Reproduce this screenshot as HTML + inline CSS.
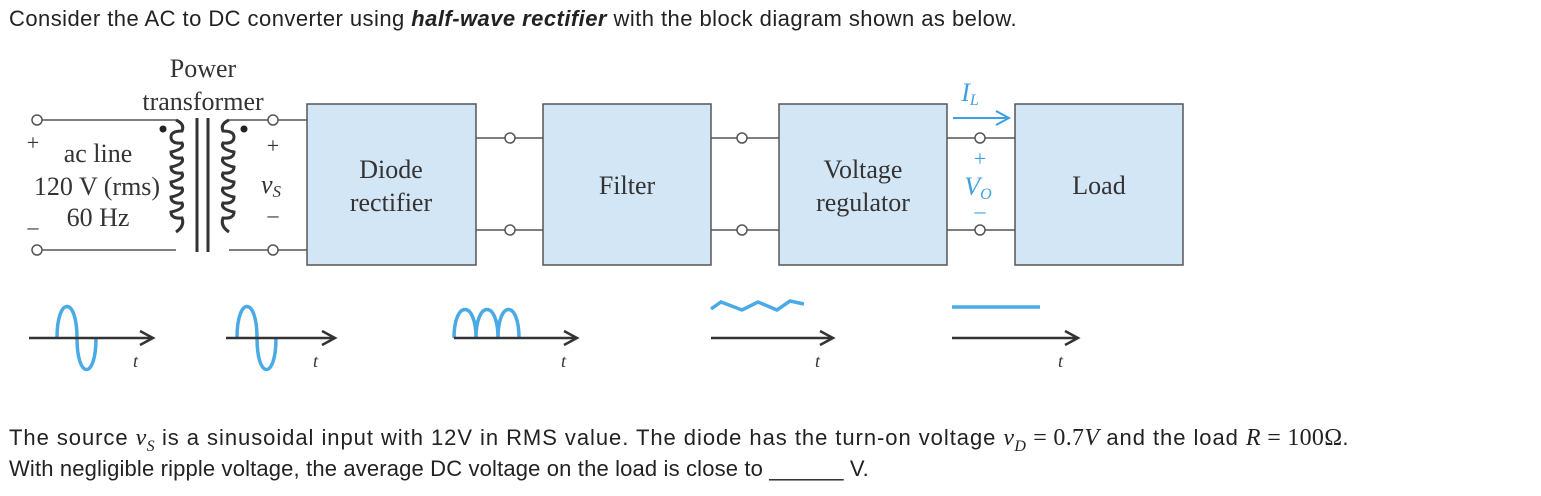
<!DOCTYPE html>
<html><head><meta charset="utf-8"><style>
body{margin:0;width:1541px;height:496px;background:#fff;position:relative;overflow:hidden;font-family:"Liberation Sans",sans-serif;color:#222}
.t{position:absolute;left:9px;font-size:22px;white-space:nowrap;letter-spacing:0.3px}
.m{font-family:'Liberation Serif',serif;font-size:24px;letter-spacing:0.3px}
</style></head><body>
<div class="t" style="top:6px;letter-spacing:0.45px">Consider the AC to DC converter using <b><i>half-wave rectifier</i></b> with the block diagram shown as below.</div>
<div class="t" style="top:425px;letter-spacing:0.95px">The source <i class="m">v<sub style="font-size:16px">S</sub></i> is a sinusoidal input with 12V in RMS value. The diode has the turn-on voltage <i class="m">v<sub style="font-size:16px">D</sub></i> <span class="m">= 0.7<i>V</i></span> and the load <span class="m"><i>R</i> = 100Ω</span>.</div>
<div class="t" style="top:456px;letter-spacing:0.15px">With negligible ripple voltage, the average DC voltage on the load is close to ______ V.</div>
<svg width="1541" height="420" style="position:absolute;left:0;top:0" font-family="Liberation Serif,serif" font-size="26" fill="#333">
<g stroke="#555" stroke-width="1.5" fill="none">
<line x1="42" y1="120" x2="176" y2="120"/><line x1="42" y1="250" x2="176" y2="250"/>
<line x1="229" y1="120" x2="268" y2="120"/><line x1="229" y1="250" x2="268" y2="250"/>
<line x1="278" y1="120" x2="307" y2="120"/><line x1="278" y1="250" x2="307" y2="250"/>
<line x1="476" y1="138" x2="505" y2="138"/><line x1="515" y1="138" x2="543" y2="138"/>
<line x1="476" y1="230" x2="505" y2="230"/><line x1="515" y1="230" x2="543" y2="230"/>
<line x1="711" y1="138" x2="737" y2="138"/><line x1="747" y1="138" x2="779" y2="138"/>
<line x1="711" y1="230" x2="737" y2="230"/><line x1="747" y1="230" x2="779" y2="230"/>
<line x1="947" y1="138" x2="975" y2="138"/><line x1="985" y1="138" x2="1015" y2="138"/>
<line x1="947" y1="230" x2="975" y2="230"/><line x1="985" y1="230" x2="1015" y2="230"/>
<circle cx="37" cy="120" r="5"/><circle cx="37" cy="250" r="5"/>
<circle cx="273" cy="120" r="5"/><circle cx="273" cy="250" r="5"/>
<circle cx="510" cy="138" r="5"/><circle cx="510" cy="230" r="5"/>
<circle cx="742" cy="138" r="5"/><circle cx="742" cy="230" r="5"/>
<circle cx="980" cy="138" r="5"/><circle cx="980" cy="230" r="5"/>
</g>
<g stroke="#333" stroke-width="3" fill="none">
<path d="M176 120 q9 4 6 11 q-11 0 -11 6 q0 7 11 6 q3 6 -11 9 q0 7 11 6 q3 6 -11 9 q0 7 11 6 q3 6 -11 9 q0 7 11 6 q3 6 -11 9 q0 7 11 6 q3 6 -11 9 q0 7 11 6 q3 8 -6 14"/>
<path d="M229 120 q-9 4 -6 11 q11 0 11 6 q0 7 -11 6 q-3 6 11 9 q0 7 -11 6 q-3 6 11 9 q0 7 -11 6 q-3 6 11 9 q0 7 -11 6 q-3 6 11 9 q0 7 -11 6 q-3 6 11 9 q0 7 -11 6 q-3 8 6 14"/>
<line x1="197" y1="118" x2="197" y2="252"/><line x1="208" y1="118" x2="208" y2="252"/>
</g>
<circle cx="163" cy="129" r="3.5" fill="#222"/><circle cx="244" cy="129" r="3.5" fill="#222"/>
<g fill="#d3e6f6" stroke="#555" stroke-width="1.5">
<rect x="307" y="104" width="169" height="161"/><rect x="543" y="104" width="168" height="161"/>
<rect x="779" y="104" width="168" height="161"/><rect x="1015" y="104" width="168" height="161"/>
</g>
<g text-anchor="middle">
<text x="203" y="77">Power</text><text x="203" y="110">transformer</text>
<text x="98" y="162">ac line</text><text x="97" y="195">120 V (rms)</text><text x="98" y="226">60 Hz</text>
<text x="33" y="150" font-size="22">+</text><text x="33" y="234" font-size="22">–</text>
<text x="273" y="153" font-size="22">+</text><text x="271" y="193" font-style="italic">v<tspan font-size="17" dy="4">S</tspan></text><text x="273" y="222" font-size="22">–</text>
<text x="391" y="178">Diode</text><text x="391" y="211">rectifier</text>
<text x="627" y="194">Filter</text>
<text x="863" y="178">Voltage</text><text x="863" y="211">regulator</text>
<text x="1099" y="194">Load</text>
</g>
<g fill="#3ea0e0" text-anchor="middle">
<text x="970" y="101" font-style="italic">I<tspan font-size="16" dy="4">L</tspan></text>
<text x="980" y="166" font-size="22">+</text>
<text x="978" y="195" font-style="italic">V<tspan font-size="16" dy="4">O</tspan></text>
<text x="980" y="218" font-size="22">–</text>
</g>
<path d="M953 118 H1008 M996 111 L1009 118 L996 125" stroke="#3ea0e0" stroke-width="2" fill="none"/>
<g stroke="#4aaae6" stroke-width="3.5" fill="none">
<path d="M57 338 C57 296 77 296 77 338 S96 380 96 338"/>
<path d="M237 338 C237 296 257 296 257 338 S276 380 276 338"/>
<path d="M454 338 C454 300 476 300 476 338 C476 300 498 300 498 338 C498 300 519 300 519 338"/>
<path d="M711 309 L721 302 L742 310 L758 302 L777 310 L790 301 L804 304"/>
<path d="M952 307 H1040"/>
</g>
<g stroke="#333" stroke-width="2.5" fill="none">
<path d="M29 338 H152 M140 331 L153 338 L140 345"/>
<path d="M226 338 H334 M322 331 L335 338 L322 345"/>
<path d="M454 338 H576 M564 331 L577 338 L564 345"/>
<path d="M711 338 H832 M820 331 L833 338 L820 345"/>
<path d="M952 338 H1077 M1065 331 L1078 338 L1065 345"/>
</g>
<g font-style="italic" font-size="18" fill="#333">
<text x="133" y="367">t</text><text x="313" y="367">t</text><text x="561" y="367">t</text><text x="815" y="367">t</text><text x="1058" y="367">t</text>
</g>
</svg>
</body></html>
